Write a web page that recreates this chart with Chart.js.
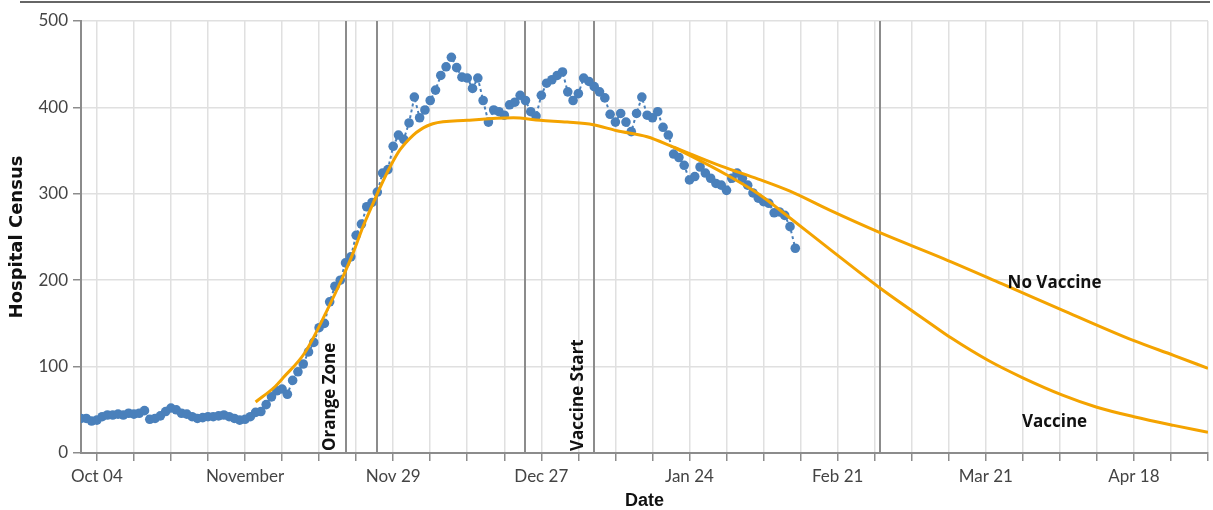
<!DOCTYPE html>
<html>
<head>
<meta charset="utf-8">
<script src="https://cdn.jsdelivr.net/npm/chart.js@4.4.0/dist/chart.umd.min.js"></script>
<style>
  html, body { margin: 0; padding: 0; background: #fff; }
  #wrap { position: relative; width: 1213px; height: 510px; }
</style>
</head>
<body>
<div id="wrap"><canvas id="myChart" width="1213" height="510"></canvas></div>
<script>
// x values are days counted from Oct 1, 2020
const censusStartDay = 0;
const censusValues = [
  40, 40, 37, 38, 42, 44, 44, 45, 44, 46, 45, 46, 49, 39, 40, 43, 48, 52, 50, 46,
  45, 42, 40, 41, 42, 42, 43, 44, 42, 40, 38, 39, 42, 47, 48, 56, 65, 72, 74, 68,
  84, 94, 103, 117, 128, 145, 150, 175, 193, 200, 220, 227, 252, 265, 285, 290, 302, 324, 328, 355,
  368, 363, 382, 412, 388, 397, 408, 420, 437, 447, 458, 446, 435, 434, 422, 434, 408, 383, 397, 395,
  391, 403, 406, 414, 408, 395, 390, 414, 428, 432, 437, 441, 418, 408, 416, 434, 430, 424, 418, 411,
  392, 383, 393, 383, 372, 393, 412, 391, 388, 395, 377, 368, 346, 342, 333, 316, 320, 331, 324, 318,
  312, 310, 304, 318, 324, 318, 310, 301, 295, 291, 289, 278, 279, 275, 262, 237
];

const noVaccineDays = [33, 36.7, 38.2, 42.3, 46.5, 49.5, 51.4, 53.3, 55.2, 56.5, 58.4, 60.3, 62.8, 64.1, 66.5,
  73, 81.7, 86.8, 91.9, 96.8, 101.3, 107, 112, 121, 128, 134, 141.5, 151, 163, 174, 186, 199, 206.5, 213];
const noVaccineValues = [59, 77, 87, 116, 165, 204, 231, 262, 289, 307, 331, 351, 368, 374, 381,
  385, 388, 385, 383, 380, 373, 366, 354, 332, 317, 303, 281, 255, 225, 196, 164, 130, 113, 98];

const vaccineDays = [112, 122, 128, 134, 141.5, 151, 160.5, 164.5, 171.5, 178, 185.5, 192, 199, 206.5, 213];
const vaccineValues = [354, 322, 300, 272, 236, 191, 150, 133, 107, 87, 67, 53, 42, 32, 24];

const eventDays = [50, 56, 84, 97, 151];
const eventLabels = ['Orange Zone', '', '', 'Vaccine Start', ''];

const tickDays = [3, 31, 59, 87, 115, 143, 171, 199];
const tickLabels = ['Oct 04', 'November', 'Nov 29', 'Dec 27', 'Jan 24', 'Feb 21', 'Mar 21', 'Apr 18'];

const curveLabelText = ['No Vaccine', 'Vaccine'];
const curveLabelDay = [184, 184];
const curveLabelValue = [197, 36];

const blue = '#4a80bb';
const orange = '#f4a300';

const extras = {
  id: 'extras',
  beforeDatasetsDraw(chart) {
    const { ctx, chartArea, scales: { x } } = chart;
    ctx.save();
    ctx.strokeStyle = '#8c8c8c';
    ctx.lineWidth = 2;
    eventDays.forEach(d => {
      const px = Math.round(x.getPixelForValue(d));
      ctx.beginPath();
      ctx.moveTo(px, chartArea.top);
      ctx.lineTo(px, chartArea.bottom);
      ctx.stroke();
    });
    ctx.restore();
  },
  afterDatasetsDraw(chart) {
    const { ctx, chartArea, scales: { x, y } } = chart;
    ctx.save();
    ctx.fillStyle = '#111';
    ctx.font = 'bold 17px "Open Sans"';
    // event labels, rotated, sitting just left of their line
    eventDays.forEach((d, i) => {
      if (!eventLabels[i]) return;
      const px = x.getPixelForValue(d);
      ctx.save();
      ctx.translate(px - 11, chartArea.bottom - 2);
      ctx.rotate(-Math.PI / 2);
      ctx.textAlign = 'left';
      ctx.textBaseline = 'alphabetic';
      ctx.fillText(eventLabels[i], 0, 0);
      ctx.restore();
    });
    ctx.textAlign = 'center';
    ctx.textBaseline = 'middle';
    curveLabelText.forEach((t, i) => {
      ctx.fillText(t, x.getPixelForValue(curveLabelDay[i]), y.getPixelForValue(curveLabelValue[i]));
    });
    ctx.restore();
  },
  afterDraw(chart) {
    const { ctx } = chart;
    ctx.save();
    ctx.strokeStyle = '#666';
    ctx.lineWidth = 2;
    ctx.beginPath();
    ctx.moveTo(20, 2);
    ctx.lineTo(1210, 2);
    ctx.stroke();
    ctx.restore();
  }
};

const tickFont = { family: 'Lato', size: 17 };

new Chart(document.getElementById('myChart').getContext('2d'), {
  type: 'line',
  data: {
    datasets: [
      {
        label: 'No Vaccine',
        data: noVaccineDays.map((d, i) => ({ x: d, y: noVaccineValues[i] })),
        borderColor: orange,
        borderWidth: 3,
        pointRadius: 0,
        cubicInterpolationMode: 'monotone'
      },
      {
        label: 'Vaccine',
        data: vaccineDays.map((d, i) => ({ x: d, y: vaccineValues[i] })),
        borderColor: orange,
        borderWidth: 3,
        pointRadius: 0,
        cubicInterpolationMode: 'monotone'
      },
      {
        label: 'Hospital Census',
        data: censusValues.map((v, i) => ({ x: censusStartDay + i, y: v })),
        borderColor: blue,
        borderWidth: 2,
        borderDash: [3, 3],
        pointRadius: 4.8,
        pointBorderWidth: 0,
        pointBackgroundColor: blue,
        tension: 0
      }
    ]
  },
  options: {
    responsive: false,
    animation: false,
    devicePixelRatio: 1,
    layout: { padding: { top: 21, right: 5, left: 0, bottom: 0 } },
    plugins: { legend: { display: false }, tooltip: { enabled: false } },
    scales: {
      x: {
        type: 'linear',
        min: 0,
        max: 213,
        afterBuildTicks: s => {
          s.ticks = [];
          for (let d = 3; d <= 213; d += 7) s.ticks.push({ value: d });
        },
        afterFit: s => { s.height = 57; },
        ticks: {
          autoSkip: false,
          maxRotation: 0,
          padding: 5,
          color: '#444',
          font: tickFont,
          callback: v => {
            const i = tickDays.indexOf(v);
            return i < 0 ? '' : tickLabels[i];
          }
        },
        grid: { color: '#e0e0e0', lineWidth: 1.5, tickLength: 8, tickColor: '#8c8c8c', tickWidth: 1.5 },
        border: { color: '#8c8c8c', width: 2 },
        title: {
          display: true, text: 'Date', color: '#111',
          font: { family: 'Liberation Sans', size: 18, weight: 'bold', lineHeight: 1 },
          padding: { top: 0, bottom: 0 }
        }
      },
      y: {
        min: 0,
        max: 500,
        afterFit: s => { s.width = 81; },
        ticks: { stepSize: 100, padding: 5, color: '#444', font: tickFont },
        grid: { color: '#e0e0e0', lineWidth: 1.5, tickLength: 8, tickColor: '#8c8c8c', tickWidth: 1.5 },
        border: { color: '#8c8c8c', width: 2 },
        title: {
          display: true, text: 'Hospital Census', color: '#111',
          font: { family: 'DejaVu Sans', size: 18, weight: 'bold', lineHeight: 1.2 },
          padding: { top: 7, bottom: 0 }
        }
      }
    }
  },
  plugins: [extras]
});
</script>
</body>
</html>
